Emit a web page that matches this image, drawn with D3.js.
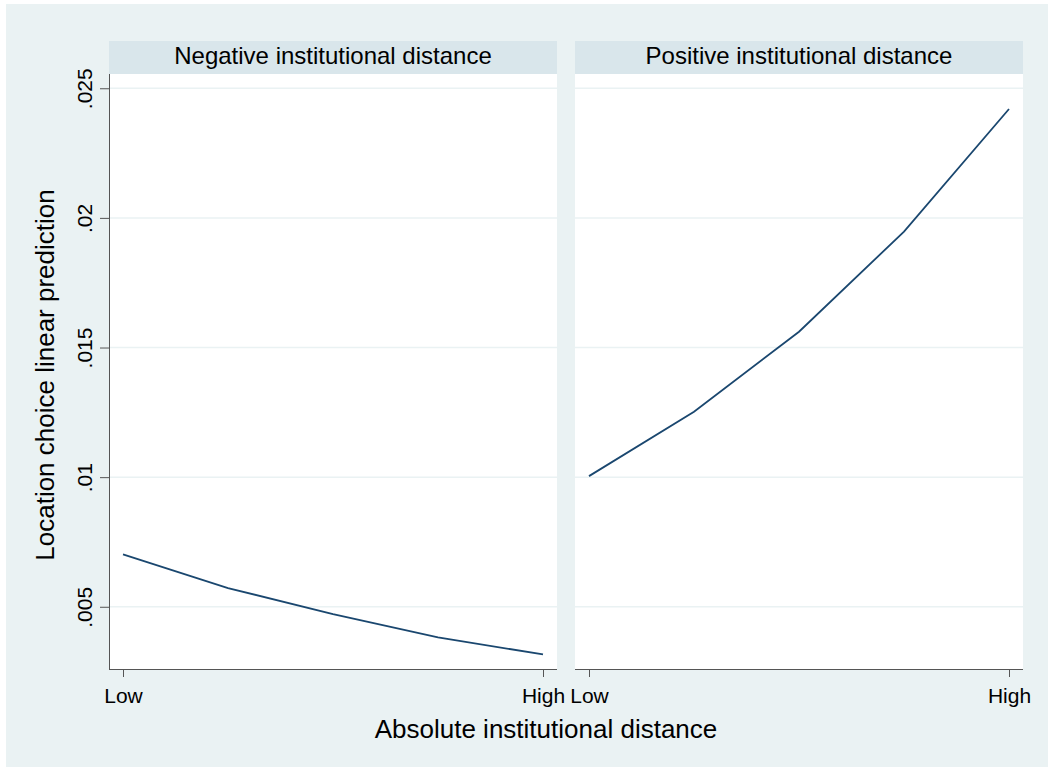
<!DOCTYPE html>
<html>
<head>
<meta charset="utf-8">
<script src="https://cdn.jsdelivr.net/npm/d3@7"></script>
<style>
  html, body { margin: 0; padding: 0; background: #fff; }
  svg { display: block; font-family: "Liberation Sans", Arial, sans-serif; }
</style>
</head>
<body>
<svg id="chart" width="1051" height="767"></svg>
<script>
// data
const panelTitles = ['Negative institutional distance', 'Positive institutional distance'];
const xLevels = [0, 1, 2, 3, 4];          // Low ... High, five evaluation points
const xTickValues = [0, 4];
const xTickLabels = ['Low', 'High'];
const negativeValues = [0.00702, 0.00572, 0.00472, 0.00382, 0.00316];
const positiveValues = [0.01004, 0.01252, 0.01561, 0.01947, 0.02420];
const yTickValues = [0.005, 0.01, 0.015, 0.02, 0.025];
const yTickLabels = ['.005', '.01', '.015', '.02', '.025'];

const yTitle = 'Location choice linear prediction';
const xTitle = 'Absolute institutional distance';

//------------------------------------------------------------------------------

const bgColor = '#eaf2f3',
  stripColor = '#d9e6eb',
  gridColor = '#eaf2f3',
  lineColor = '#1a476f',
  axisColor = '#555';

const svg = d3.select('#chart');

svg.append('rect')
  .attr('x', 6).attr('y', 4)
  .attr('width', 1042).attr('height', 763)
  .attr('fill', bgColor);

const panelW = 448,
  panelTop = 74,
  panelBottom = 669,
  stripTop = 41,
  panelLefts = [109, 575];

const y = d3.scaleLinear()
  .domain([0.0026, 0.02555])
  .range([panelBottom, panelTop]);

const x = d3.scaleLinear()
  .domain(d3.extent(xLevels))
  .range([14, panelW - 14]);

const line = d3.line()
  .x((d, i) => x(xLevels[i]))
  .y(d => y(d));

const series = [negativeValues, positiveValues];

panelTitles.forEach((title, p) => {
  const g = svg.append('g')
    .attr('transform', `translate(${panelLefts[p]},0)`);

  // strip
  g.append('rect')
    .attr('x', 0).attr('y', stripTop)
    .attr('width', panelW).attr('height', panelTop - stripTop)
    .attr('fill', stripColor);
  g.append('text')
    .attr('x', panelW / 2).attr('y', 64)
    .attr('text-anchor', 'middle')
    .attr('font-size', 24)
    .attr('fill', '#000')
    .text(title);

  // plot region
  g.append('rect')
    .attr('x', 0).attr('y', panelTop)
    .attr('width', panelW).attr('height', panelBottom - panelTop)
    .attr('fill', '#fff');

  // grid
  g.selectAll('line.grid')
    .data(yTickValues)
    .join('line')
    .attr('class', 'grid')
    .attr('x1', 0).attr('x2', panelW)
    .attr('y1', d => y(d)).attr('y2', d => y(d))
    .attr('stroke', gridColor)
    .attr('stroke-width', 1.5);

  // series
  g.append('path')
    .datum(series[p])
    .attr('d', line)
    .attr('fill', 'none')
    .attr('stroke', lineColor)
    .attr('stroke-width', 1.8);

  // x axis
  const xAxis = d3.axisBottom(x)
    .tickValues(xTickValues)
    .tickFormat((d, i) => xTickLabels[i])
    .tickSize(8)
    .tickSizeOuter(0)
    .tickPadding(11);
  const gx = g.append('g')
    .attr('transform', `translate(0,${panelBottom})`)
    .call(xAxis);
  gx.select('.domain')
    .attr('d', `M0,0.5H${panelW}`)
    .attr('stroke', axisColor);
  gx.selectAll('.tick line').attr('stroke', axisColor);
  gx.selectAll('.tick text')
    .attr('font-size', 21)
    .attr('font-family', '"Liberation Sans", Arial, sans-serif')
    .attr('fill', '#000');

  // y axis only on the first panel
  if (p === 0) {
    const yAxis = d3.axisLeft(y)
      .tickValues(yTickValues)
      .tickFormat((d, i) => yTickLabels[i])
      .tickSize(9)
      .tickSizeOuter(0);
    const gy = g.append('g').call(yAxis);
    gy.select('.domain')
      .attr('d', `M0.5,${panelTop}V${panelBottom}`)
      .attr('stroke', axisColor);
    gy.selectAll('.tick line').attr('stroke', axisColor);
    gy.selectAll('.tick text')
      .attr('font-size', 21)
      .attr('font-family', '"Liberation Sans", Arial, sans-serif')
      .attr('fill', '#000')
      .attr('x', null).attr('dy', null)
      .attr('text-anchor', 'middle')
      .attr('transform', 'translate(-17,0) rotate(-90)');
  }
});

// axis titles
svg.append('text')
  .attr('x', 546).attr('y', 738)
  .attr('text-anchor', 'middle')
  .attr('font-size', 26)
  .attr('fill', '#000')
  .text(xTitle);

svg.append('text')
  .attr('transform', 'translate(54,375) rotate(-90)')
  .attr('text-anchor', 'middle')
  .attr('font-size', 26)
  .attr('fill', '#000')
  .text(yTitle);
</script>
</body>
</html>
